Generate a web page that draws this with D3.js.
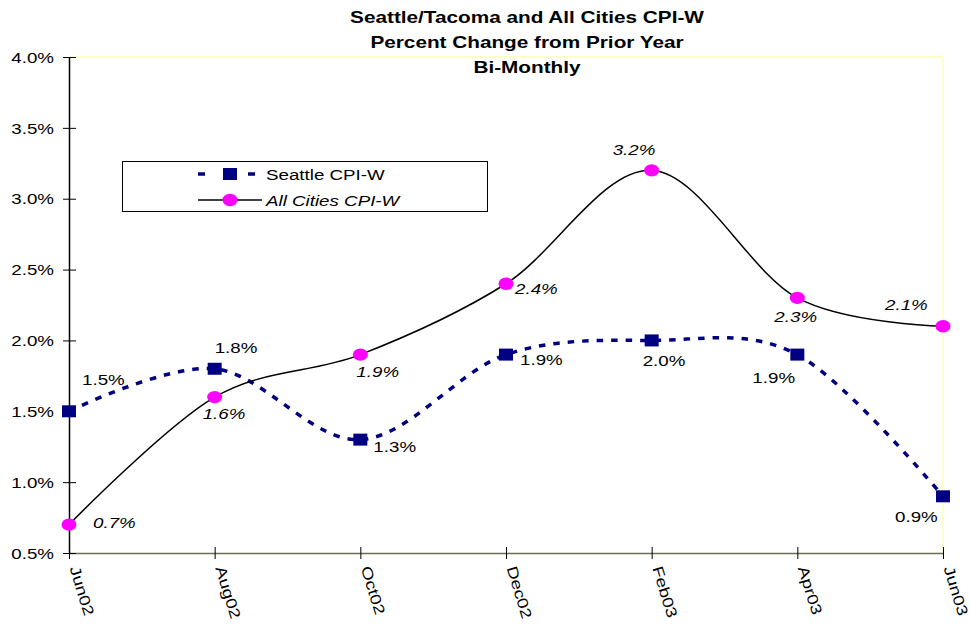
<!DOCTYPE html>
<html>
<head>
<meta charset="utf-8">
<script src="https://cdn.jsdelivr.net/npm/d3@7"></script>
<style>
  html, body { margin: 0; padding: 0; background: #fff; }
  svg { display: block; font-family: Arial, "Liberation Sans", sans-serif; }
</style>
</head>
<body>
<svg id="chart" width="970" height="632"></svg>
<script>
// ---- data ----
const categories = ["Jun02", "Aug02", "Oct02", "Dec02", "Feb03", "Apr03", "Jun03"];
const seattle = [1.5, 1.8, 1.3, 1.9, 2.0, 1.9, 0.9];
const allCities = [0.7, 1.6, 1.9, 2.4, 3.2, 2.3, 2.1];
const yTicks = [0.5, 1.0, 1.5, 2.0, 2.5, 3.0, 3.5, 4.0];
const titleLines = ["Seattle/Tacoma and All Cities CPI-W", "Percent Change from Prior Year", "Bi-Monthly"];
const seriesNames = ["Seattle CPI-W", "All Cities CPI-W"];

// label placement offsets (style, not data)
const seattleLabelOff = [[13,-26],[0,-16],[13,12],[14,10],[-9,26],[-45,28],[-48,26]];
const allLabelOff = [[24,3],[-12,22],[-4,22],[9,10],[-39,-15],[-23,24],[-58,-16]];

const SX = 1.25; // horizontal stretch of text
const svg = d3.select("#chart");
const L = 69, R = 943, T = 57, B = 553;
const x = d3.scalePoint().domain(categories).range([L, R]);
const y = d3.scaleLinear().domain([0.5, 4.0]).range([B, T]);

function stext(parent, px, py, str, o = {}) {
  const t = parent.append("text")
    .attr("transform", `translate(${px},${py})` + (o.rotate ? ` rotate(${o.rotate})` : "") + ` scale(${o.sx || SX},1)`)
    .attr("font-size", o.size || 15)
    .attr("text-anchor", o.anchor || "start")
    .attr("fill", o.fill || "#000")
    .text(str);
  if (o.weight) t.attr("font-weight", o.weight);
  if (o.style) t.attr("font-style", o.style);
  return t;
}

// title
titleLines.forEach((s, i) => stext(svg, 527, 23 + i * 25, s, {size: 17.3, weight: "bold", anchor: "middle", sx: 1.2}));

// plot frame (top/right)
svg.append("line").attr("x1", L).attr("x2", R).attr("y1", T).attr("y2", T).attr("stroke", "#ffff99").attr("stroke-width", 1);
svg.append("line").attr("x1", R).attr("x2", R).attr("y1", T).attr("y2", B).attr("stroke", "#ffff99").attr("stroke-width", 1);

// x axis
const gx = svg.append("g").attr("transform", `translate(0,${B})`)
  .call(d3.axisBottom(x).tickSizeInner(6).tickSizeOuter(0).tickPadding(0));
gx.select(".domain").attr("stroke", "#6e6b55").attr("stroke-width", 1.5);
gx.selectAll(".tick line").attr("y1", -6).attr("y2", 6).attr("stroke", "#000");
gx.selectAll(".tick text")
  .attr("x", null).attr("y", null).attr("dy", null)
  .attr("text-anchor", "start")
  .attr("font-size", 15).attr("font-family", "Arial, 'Liberation Sans', sans-serif").attr("fill", "#000")
  .attr("transform", `translate(0,15) rotate(73) scale(${SX},1)`);

// y axis
const gy = svg.append("g").attr("transform", `translate(${L},0)`)
  .call(d3.axisLeft(y).tickValues(yTicks).tickFormat(d => d.toFixed(1) + "%").tickSizeInner(6).tickSizeOuter(0).tickPadding(0));
gy.select(".domain").attr("stroke", "#000").attr("stroke-width", 1.5);
gy.selectAll(".tick line").attr("x1", 7).attr("x2", -6).attr("stroke", "#000");
gy.selectAll(".tick text")
  .attr("x", null).attr("dy", "0.35em")
  .attr("text-anchor", "end")
  .attr("font-size", 15).attr("font-family", "Arial, 'Liberation Sans', sans-serif").attr("fill", "#000")
  .attr("transform", `translate(-15,0) scale(${SX},1)`);

const line = d3.line().x((d, i) => x(categories[i])).y(d => y(d)).curve(d3.curveCardinal.tension(0));

// Seattle series
svg.append("path").datum(seattle).attr("d", line)
  .attr("fill", "none").attr("stroke", "#000080").attr("stroke-width", 3.5).attr("stroke-dasharray", "6.5,8");
svg.selectAll(".sq").data(seattle).enter().append("rect")
  .attr("x", (d, i) => x(categories[i]) - 7).attr("y", d => y(d) - 6)
  .attr("width", 14).attr("height", 12).attr("fill", "#000080");

// All cities series
svg.append("path").datum(allCities).attr("d", line)
  .attr("fill", "none").attr("stroke", "#000").attr("stroke-width", 1.5);
svg.selectAll(".ci").data(allCities).enter().append("ellipse")
  .attr("cx", (d, i) => x(categories[i])).attr("cy", d => y(d))
  .attr("rx", 7.5).attr("ry", 6.2).attr("fill", "#ff00ff");

// data labels
seattle.forEach((v, i) => {
  const o = seattleLabelOff[i];
  stext(svg, x(categories[i]) + o[0], y(v) + o[1], v.toFixed(1) + "%");
});
allCities.forEach((v, i) => {
  const o = allLabelOff[i];
  stext(svg, x(categories[i]) + o[0], y(v) + o[1], v.toFixed(1) + "%", {style: "italic"});
});

// legend
const lg = svg.append("g");
lg.append("rect").attr("x", 122.5).attr("y", 161.5).attr("width", 365).attr("height", 50)
  .attr("fill", "#fff").attr("stroke", "#000").attr("stroke-width", 1);
lg.append("line").attr("x1", 198).attr("x2", 262).attr("y1", 174).attr("y2", 174)
  .attr("stroke", "#000080").attr("stroke-width", 3.5).attr("stroke-dasharray", "7,18");
lg.append("rect").attr("x", 223).attr("y", 168).attr("width", 14).attr("height", 12).attr("fill", "#000080");
stext(lg, 266, 180, seriesNames[0]);
lg.append("line").attr("x1", 198).attr("x2", 262).attr("y1", 200).attr("y2", 200)
  .attr("stroke", "#000").attr("stroke-width", 1.5);
lg.append("ellipse").attr("cx", 230).attr("cy", 200).attr("rx", 7.5).attr("ry", 6.2).attr("fill", "#ff00ff");
stext(lg, 266, 206, seriesNames[1], {style: "italic"});
</script>
</body>
</html>
